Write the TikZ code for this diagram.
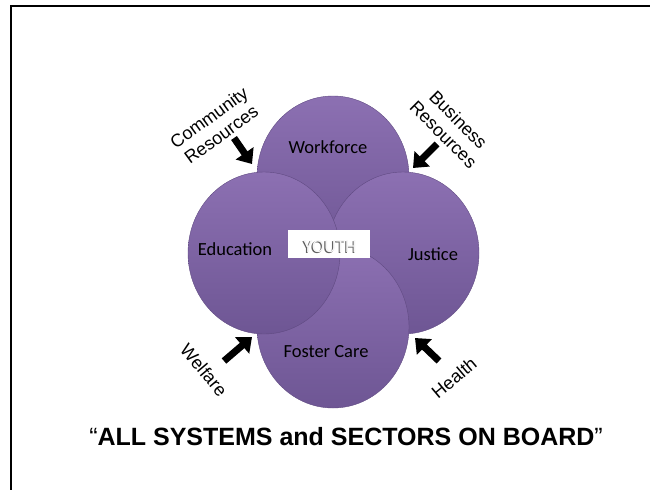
\documentclass[tikz,border=0pt]{standalone}
\usepackage{fontspec}
\setmainfont{Liberation Sans}
\newfontfamily\carlito{Carlito}
\usetikzlibrary{shapes.geometric,arrows.meta}
\definecolor{venntop}{RGB}{140,112,178}
\definecolor{vennbot}{RGB}{110,86,148}
\definecolor{vennedge}{RGB}{96,74,130}

\begin{document}
\begin{tikzpicture}[x=1pt, y=-1pt,
    sector/.style={ellipse, minimum width=152pt, minimum height=162pt, inner sep=0pt,
      top color=venntop, bottom color=vennbot, draw=vennedge, line width=0.4pt},
    sectorname/.style={font=\carlito\fontsize{18.5}{20}\selectfont},
    outside/.style={font=\fontsize{18}{21}\selectfont, align=center, inner sep=1pt},
    push/.style={line width=7pt, -{Triangle[length=13pt, width=21pt]}}]
    \useasboundingbox (0,0) rectangle (650,490);
    \draw[line width=2.5pt] (650,6) -- (11,6) -- (11,490);
    % the four sectors, back to front
    \node[sector] (work) at (333,177) {};
    \node[sector] (just) at (403,253) {};
    \node[sector] (foster) at (333,327) {};
    \node[sector] (edu) at (264,253) {};
    \node[sectorname] (worktext) at (328,147) {Workforce};
    \node[sectorname] (edutext) at (235,249) {Education};
    \node[sectorname] (justtext) at (433,254) {Justice};
    \node[sectorname] (fostertext) at (326,352) {Foster Care};
    % youth in the middle
    \node[fill=white, minimum width=82pt, minimum height=28pt] (youth) at (329,244) {};
    \node[sectorname, text=gray!75!black] (youthshade) at (329,248) {YOUTH};
    \node[sectorname, text=gray!8] (youthtext) at (330.2,247) {YOUTH};
    % resources coming in
    \node[outside, rotate=36] (comm) at (215,126) {Community\\Resources};
    \node[outside, rotate=-45] (bus) at (451,127) {Business\\Resources};
    \node[outside, rotate=-50] (welf) at (204,370) {Welfare};
    \node[outside, rotate=40] (health) at (454,378) {Health};
    \coordinate (commtail) at (234,138);
    \coordinate (commtip) at (252,164);
    \coordinate (bustail) at (437,144);
    \coordinate (bustip) at (413,168);
    \coordinate (welftail) at (224,361);
    \coordinate (welftip) at (252,337);
    \coordinate (healthtail) at (439,361);
    \coordinate (healthtip) at (415,338);
    \draw[push] (commtail) -- (commtip);
    \draw[push] (bustail) -- (bustip);
    \draw[push] (welftail) -- (welftip);
    \draw[push] (healthtail) -- (healthtip);
    \node[font=\bfseries\fontsize{25}{28}\selectfont] (title) at (346,437)
      {{\mdseries “}ALL SYSTEMS and SECTORS ON BOARD{\mdseries ”}};
\end{tikzpicture}
\end{document}
